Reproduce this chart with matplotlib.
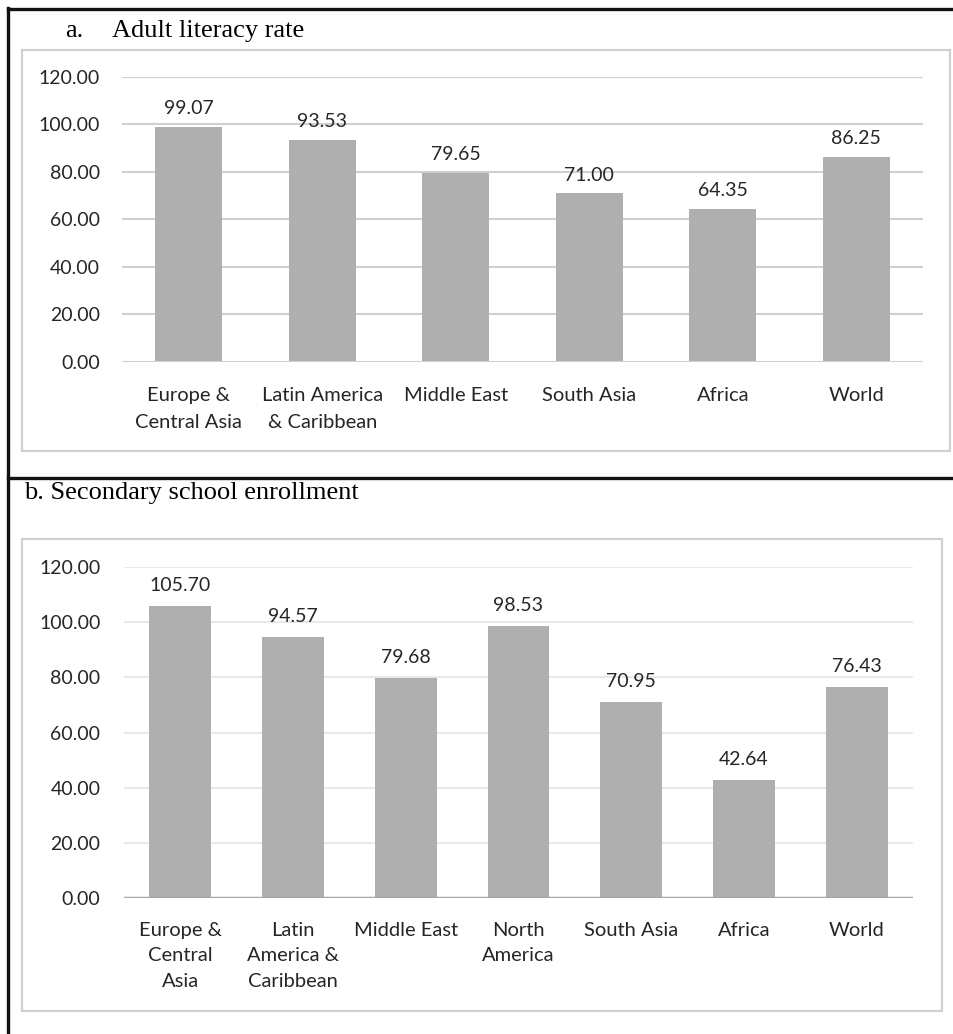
import matplotlib.pyplot as plt
from matplotlib.patches import Rectangle
from matplotlib.lines import Line2D

# datos
lit_regions = ['Europe &\nCentral Asia', 'Latin America\n& Caribbean', 'Middle East',
               'South Asia', 'Africa', 'World']
lit_values = [99.07, 93.53, 79.65, 71.00, 64.35, 86.25]

enr_regions = ['Europe &\nCentral\nAsia', 'Latin\nAmerica &\nCaribbean', 'Middle East',
               'North\nAmerica', 'South Asia', 'Africa', 'World']
enr_values = [105.70, 94.57, 79.68, 98.53, 70.95, 42.64, 76.43]

y_ticks = [0, 20, 40, 60, 80, 100, 120]

W, H = 954, 1034
bar_color = '#AFAFAF'
text_color = '#262626'
sans = 'Lato'
serif = 'Liberation Serif'

fig = plt.figure(figsize=(W / 100, H / 100), dpi=100)


def px_box(x0, y0, x1, y1):
    # caja en pixeles (origen arriba-izquierda) -> fracciones de figura
    return [x0 / W, 1 - y1 / H, (x1 - x0) / W, (y1 - y0) / H]


def draw_panel(ax, labels, values, grid_color, base_color, base_lw, width,
               xpad, ypad, lab_off, spacing):
    x = range(len(values))
    ax.set_axisbelow(True)
    ax.bar(x, values, width=width, color=bar_color, zorder=2)
    ax.set_ylim(0, 120)
    ax.set_xlim(-0.5, len(values) - 0.5)
    ax.set_yticks(y_ticks)
    ax.set_yticklabels([f'{v:.2f}' for v in y_ticks], fontsize=14, family=sans, color=text_color)
    ax.set_xticks(list(x))
    ax.set_xticklabels(labels, fontsize=14.5, family=sans, color=text_color, linespacing=spacing)
    ax.tick_params(axis='y', length=0, pad=ypad)
    ax.tick_params(axis='x', length=0, pad=xpad)
    for t in y_ticks[1:]:
        ax.axhline(t, color=grid_color, lw=1.5, zorder=1)
    ax.axhline(0, color=base_color, lw=base_lw, zorder=3)
    for s in ax.spines.values():
        s.set_visible(False)
    for i, v in enumerate(values):
        ax.annotate(f'{v:.2f}', (i, v), xytext=(0, lab_off), textcoords='offset points',
                    ha='center', va='bottom', fontsize=14, family=sans, color=text_color)


# panel a
ax1 = fig.add_axes(px_box(122, 77, 923, 362))
draw_panel(ax1, lit_regions, lit_values, '#D0D0D0', '#D0D0D0', 1.5, 0.5, 18, 16, 7, 1.75)

# panel b
ax2 = fig.add_axes(px_box(124, 567, 913, 898))
draw_panel(ax2, enr_regions, enr_values, '#E8E8E8', '#A8A8A8', 2.5, 0.55, 17, 17, 9, 1.62)

# marcos
def frect(x0, y0, x1, y1, color, lw):
    fig.add_artist(Rectangle((x0 / W, 1 - y1 / H), (x1 - x0) / W, (y1 - y0) / H,
                             transform=fig.transFigure, fill=False, edgecolor=color, lw=lw))


def fline(x0, y0, x1, y1, color, lw):
    fig.add_artist(Line2D([x0 / W, x1 / W], [1 - y0 / H, 1 - y1 / H],
                          transform=fig.transFigure, color=color, lw=lw))


frect(22, 50, 950, 451, '#D0D0D0', 1.6)
frect(22, 539, 942, 1011, '#D0D0D0', 1.6)
fline(8, 9, 954, 9, '#111111', 2.4)
fline(8, 478, 954, 478, '#111111', 2.4)
fline(8, 8, 8, 1034, '#111111', 2.4)

# titulos
fig.text(65 / W, 1 - 37 / H, 'a.', family=serif, fontsize=19, va='baseline', ha='left')
fig.text(112 / W, 1 - 37 / H, 'Adult literacy rate', family=serif, fontsize=19,
         va='baseline', ha='left')
fig.text(24 / W, 1 - 499 / H, 'b. Secondary school enrollment', family=serif, fontsize=19,
         va='baseline', ha='left')

plt.savefig('out.png', dpi=100)
plt.close()
